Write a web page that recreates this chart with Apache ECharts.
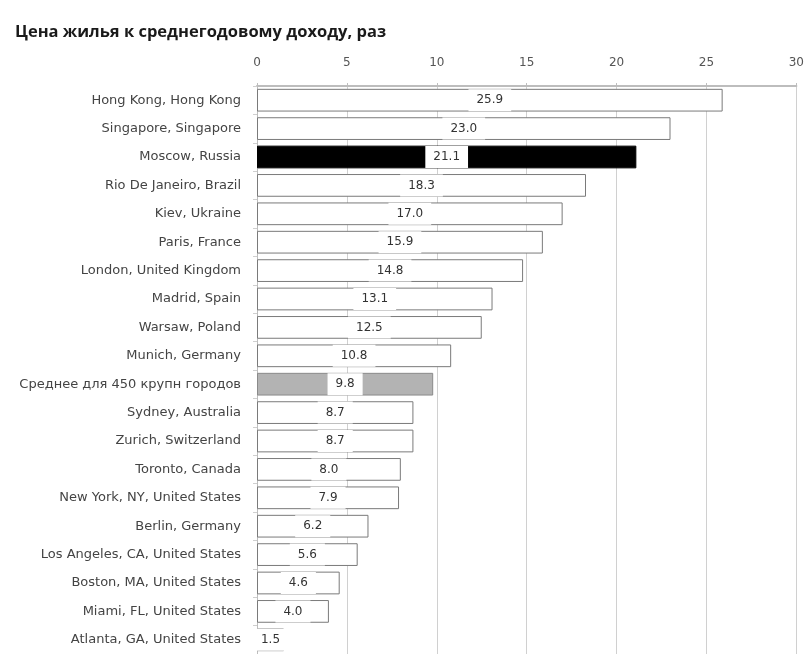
<!DOCTYPE html>
<html>
<head>
<meta charset="utf-8">
<script src="https://cdn.jsdelivr.net/npm/echarts@6/dist/echarts.min.js"></script>
<style>
  html, body { margin: 0; padding: 0; background: #fff; }
  #chart { width: 807px; height: 654px; }
</style>
</head>
<body>
<div id="chart"></div>
<script>
// Cities, top to bottom
const cities = [
  'Hong Kong, Hong Kong',
  'Singapore, Singapore',
  'Moscow, Russia',
  'Rio De Janeiro, Brazil',
  'Kiev, Ukraine',
  'Paris, France',
  'London, United Kingdom',
  'Madrid, Spain',
  'Warsaw, Poland',
  'Munich, Germany',
  'Среднее для 450 крупн городов',
  'Sydney, Australia',
  'Zurich, Switzerland',
  'Toronto, Canada',
  'New York, NY, United States',
  'Berlin, Germany',
  'Los Angeles, CA, United States',
  'Boston, MA, United States',
  'Miami, FL, United States',
  'Atlanta, GA, United States'
];

// Price-to-income ratio, years
const ratios = [25.9, 23.0, 21.1, 18.3, 17.0, 15.9, 14.8, 13.1, 12.5, 10.8,
                9.8, 8.7, 8.7, 8.0, 7.9, 6.2, 5.6, 4.6, 4.0, 1.5];

// Highlighted rows
const highlightCity = 'Moscow, Russia';
const averageRow = 'Среднее для 450 крупн городов';

const axisTicks = [0, 5, 10, 15, 20, 25, 30];

const barData = cities.map((c, i) => {
  let style = { color: '#ffffff', borderColor: '#7a7a7a', borderWidth: 1 };
  if (c === highlightCity) style = { color: '#000000', borderColor: '#000000', borderWidth: 1 };
  if (c === averageRow) style = { color: '#b3b3b3', borderColor: '#8a8a8a', borderWidth: 1 };
  return { value: ratios[i], itemStyle: style };
});

const chart = echarts.init(document.getElementById('chart'), null, { renderer: 'canvas' });
chart.setOption({
  animation: false,
  backgroundColor: '#ffffff',
  title: {
    text: 'Цена жилья к среднегодовому доходу, раз',
    left: 10,
    top: 19,
    textStyle: { fontFamily: 'Open Sans', fontWeight: 'bold', fontSize: 16.5, color: '#1a1a1a' }
  },
  grid: { left: 257, right: 10, top: 86, height: 570, containLabel: false },
  xAxis: {
    type: 'value',
    position: 'top',
    min: axisTicks[0],
    max: axisTicks[axisTicks.length - 1],
    interval: 5,
    axisLine: { show: true, lineStyle: { color: '#bdbdbd', width: 2 } },
    axisTick: { show: true, length: 3, lineStyle: { color: '#bdbdbd' } },
    axisLabel: { color: '#555', fontFamily: 'DejaVu Sans', fontSize: 12, margin: 17 },
    splitLine: { show: true, lineStyle: { color: '#d0d0d0', width: 1 } }
  },
  yAxis: {
    type: 'category',
    data: cities,
    inverse: true,
    axisLine: { show: true, lineStyle: { color: '#bdbdbd', width: 1 } },
    axisTick: { show: true, length: 4, lineStyle: { color: '#cfcfcf' } },
    axisLabel: { color: '#444', fontFamily: 'DejaVu Sans', fontSize: 13, margin: 16 }
  },
  series: [{
    type: 'bar',
    data: barData,
    barCategoryGap: '20%',
    label: {
      show: true,
      position: 'inside',
      formatter: p => p.value.toFixed(1),
      color: '#333',
      fontFamily: 'DejaVu Sans',
      fontSize: 12,
      backgroundColor: '#ffffff',
      padding: [5, 8]
    }
  }]
});
</script>
</body>
</html>
